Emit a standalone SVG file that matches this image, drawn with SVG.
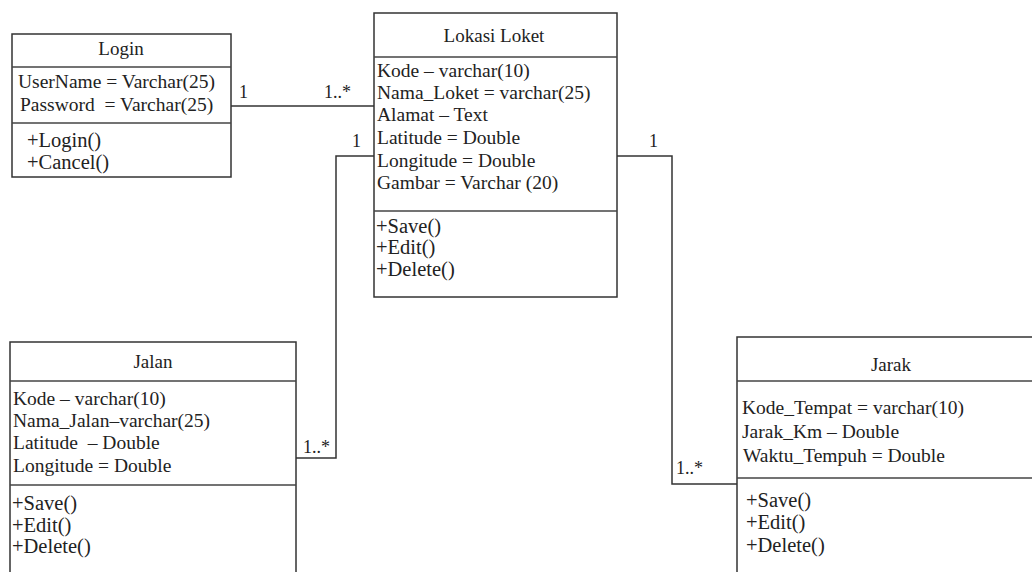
<svg xmlns="http://www.w3.org/2000/svg" width="1032" height="572" viewBox="0 0 1032 572">
<style>
.box{fill:#fff;stroke:#333;stroke-width:1.5}
.div{stroke:#444;stroke-width:1.5}
.con{fill:none;stroke:#333;stroke-width:1.5}
text{font-family:"Liberation Serif","Times New Roman",serif;font-size:19.5px;fill:#222;white-space:pre}
.t{text-anchor:middle;font-size:19px}
.m{font-size:20.5px}
.lbl{font-size:18px}
</style>
<rect width="1032" height="572" fill="#fff"/>
<g id="connectors">
<polyline class="con" points="231,106 374,106"/>
<polyline class="con" points="374,156 336,156 336,458 296,458"/>
<polyline class="con" points="617,156 672,156 672,484 737,484"/>
<text class="lbl" x="239" y="98">1</text>
<text class="lbl" x="324" y="98">1..*</text>
<text class="lbl" x="352" y="147">1</text>
<text class="lbl" x="303" y="453">1..*</text>
<text class="lbl" x="649" y="147">1</text>
<text class="lbl" x="676" y="474">1..*</text>
</g>
<g id="login">
<rect class="box" x="12" y="34" width="219" height="143"/>
<line class="div" x1="12" y1="67" x2="231" y2="67"/>
<line class="div" x1="12" y1="123" x2="231" y2="123"/>
<text class="t" x="121" y="55">Login</text>
<text x="18" y="88">UserName = Varchar(25)</text>
<text x="20" y="111">Password  = Varchar(25)</text>
<text class="m" x="27" y="147">+Login()</text>
<text class="m" x="27" y="169">+Cancel()</text>
</g>
<g id="lokasi-loket">
<rect class="box" x="374" y="13" width="243" height="284"/>
<line class="div" x1="374" y1="57" x2="617" y2="57"/>
<line class="div" x1="374" y1="211" x2="617" y2="211"/>
<text class="t" x="494" y="42">Lokasi Loket</text>
<text x="377" y="77">Kode – varchar(10)</text>
<text x="377" y="99">Nama_Loket = varchar(25)</text>
<text x="377" y="121">Alamat – Text</text>
<text x="377" y="144">Latitude = Double</text>
<text x="377" y="167">Longitude = Double</text>
<text x="377" y="189">Gambar = Varchar (20)</text>
<text class="m" x="376" y="233">+Save()</text>
<text class="m" x="376" y="254">+Edit()</text>
<text class="m" x="376" y="276">+Delete()</text>
</g>
<g id="jalan">
<rect class="box" x="10" y="342" width="286" height="260"/>
<line class="div" x1="10" y1="381" x2="296" y2="381"/>
<line class="div" x1="10" y1="485" x2="296" y2="485"/>
<text class="t" x="153" y="368">Jalan</text>
<text x="13" y="405">Kode – varchar(10)</text>
<text x="13" y="427">Nama_Jalan–varchar(25)</text>
<text x="13" y="449">Latitude  – Double</text>
<text x="13" y="472">Longitude = Double</text>
<text class="m" x="12" y="510">+Save()</text>
<text class="m" x="12" y="532">+Edit()</text>
<text class="m" x="12" y="553">+Delete()</text>
</g>
<g id="jarak">
<rect class="box" x="737" y="337" width="310" height="265"/>
<line class="div" x1="737" y1="381" x2="1047" y2="381"/>
<line class="div" x1="737" y1="478" x2="1047" y2="478"/>
<text class="t" x="891" y="371">Jarak</text>
<text x="742" y="414">Kode_Tempat = varchar(10)</text>
<text x="742" y="438">Jarak_Km – Double</text>
<text x="743" y="462">Waktu_Tempuh = Double</text>
<text class="m" x="746" y="507">+Save()</text>
<text class="m" x="746" y="529">+Edit()</text>
<text class="m" x="746" y="552">+Delete()</text>
</g>
</svg>
